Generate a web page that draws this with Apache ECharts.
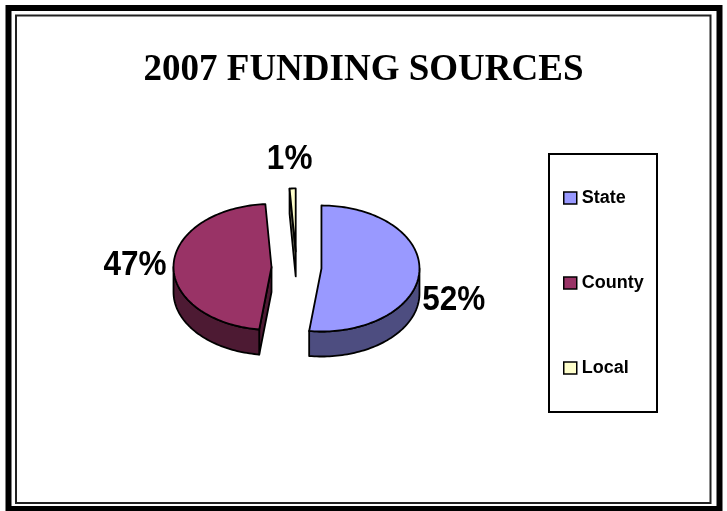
<!DOCTYPE html>
<html>
<head>
<meta charset="utf-8">
<style>
  html, body { margin: 0; padding: 0; background: #fff; }
  #chart { width: 727px; height: 511px; }
</style>
<script src="https://cdn.jsdelivr.net/npm/echarts@6/dist/echarts.min.js"></script>
</head>
<body>
<div id="chart"></div>
<script>
// ---- data ----
const categories = ['State', 'County', 'Local'];
const values = [52, 47, 1];
const titleText = '2007 FUNDING SOURCES';

// ---- styles ----
const topColors = ['#9999FF', '#993366', '#FFFFCC'];
const sideColors = ['#4D4D80', '#4D1A33', '#80806A'];

// ---- layout of the 3D pie ----
const P = { cx: 296.5, cy: 267.5, rx: 98, ry: 63, depth: 25, explode: 25, padX: 3, padY: 30 };

function renderSlice(i) {
  return function () {
    const total = values.reduce((s, v) => s + v, 0);
    let cum = 0;
    for (let k = 0; k < i; k++) cum += values[k];
    const TWO = Math.PI * 2;
    const a0 = TWO * cum / total;
    const a1 = TWO * (cum + values[i]) / total;
    const mid = (a0 + a1) / 2;
    const ex = P.cx + P.explode * Math.sin(mid);
    const ey = P.cy - P.explode * (P.ry / P.rx) * Math.cos(mid);
    const D = P.depth;
    const pt = (t, dy) => [ex + P.rx * Math.sin(t), ey - P.ry * Math.cos(t) + (dy || 0)];
    const arc = (t0, t1, dy) => {
      const n = Math.max(2, Math.ceil((t1 - t0) / (Math.PI / 120)));
      const out = [];
      for (let j = 0; j <= n; j++) out.push(pt(t0 + (t1 - t0) * j / n, dy));
      return out;
    };
    const stroke = { stroke: '#000', lineWidth: 1.8, lineJoin: 'round' };
    const side = Object.assign({ fill: sideColors[i] }, stroke);
    const children = [];
    // radial cut faces
    if (Math.sin(a0) < -1e-6) {
      children.push({ type: 'polygon', shape: { points: [[ex, ey], pt(a0, 0), pt(a0, D), [ex, ey + D]] }, style: side });
    }
    if (Math.sin(a1) > 1e-6) {
      children.push({ type: 'polygon', shape: { points: [[ex, ey], pt(a1, 0), pt(a1, D), [ex, ey + D]] }, style: side });
    }
    // outer wall (front half only)
    const w0 = Math.max(a0, Math.PI / 2), w1 = Math.min(a1, Math.PI * 1.5);
    if (w1 > w0) {
      children.push({ type: 'polygon', shape: { points: arc(w0, w1, 0).concat(arc(w0, w1, D).reverse()) }, style: side });
    }
    // top face
    children.push({ type: 'polygon', shape: { points: [[ex, ey]].concat(arc(a0, a1, 0)) },
      style: Object.assign({ fill: topColors[i] }, stroke) });
    // label
    const s = Math.sin(mid), c = Math.cos(mid);
    let align = 'center', lx = ex + P.rx * s - 3;
    if (s > 0.3) { align = 'left'; lx = ex + P.rx * s + P.padX; }
    else if (s < -0.3) { align = 'right'; lx = ex + P.rx * s - P.padX - 4; }
    const ly = ey - (P.ry + P.padY) * c + D * Math.max(0, s) + 1;
    children.push({ type: 'text', x: lx, y: ly, scaleX: 0.9, style: {
      text: Math.round(values[i] / total * 100) + '%', x: 0, y: 0, align: align, verticalAlign: 'middle',
      font: 'bold 35px "Liberation Sans", Arial, sans-serif', fill: '#000' } });
    return { type: 'group', children: children };
  };
}

const chart = echarts.init(document.getElementById('chart'), null, { renderer: 'canvas' });
chart.setOption({
  backgroundColor: '#fff',
  animation: false,
  color: topColors,
  title: {
    text: titleText, left: 'center', top: 47,
    textStyle: { fontFamily: '"Liberation Serif", "Times New Roman", serif', fontWeight: 'bold', fontSize: 37, color: '#000' }
  },
  legend: {
    orient: 'vertical', left: 558, top: 184, itemWidth: 13, itemHeight: 12, itemGap: 67,
    icon: 'rect', selectedMode: false, data: categories,
    itemStyle: { borderColor: '#000', borderWidth: 1.5 },
    textStyle: { fontFamily: '"Liberation Sans", Arial, sans-serif', fontWeight: 'bold', fontSize: 18, color: '#000' }
  },
  graphic: [
    { type: 'rect', shape: { x: 8.5, y: 8, width: 711, height: 501 }, style: { fill: null, stroke: '#000', lineWidth: 6 }, silent: true },
    { type: 'rect', shape: { x: 16, y: 15.5, width: 694.5, height: 487.5 }, style: { fill: null, stroke: '#222', lineWidth: 2 }, silent: true },
    { type: 'rect', shape: { x: 549, y: 154, width: 108, height: 258 }, style: { fill: null, stroke: '#000', lineWidth: 2 }, silent: true }
  ],
  series: categories.map((name, i) => ({
    type: 'custom', name: name, coordinateSystem: 'none',
    itemStyle: { color: topColors[i] },
    data: [[values[i]]],
    renderItem: renderSlice(i),
    silent: true
  }))
});
</script>
</body>
</html>
